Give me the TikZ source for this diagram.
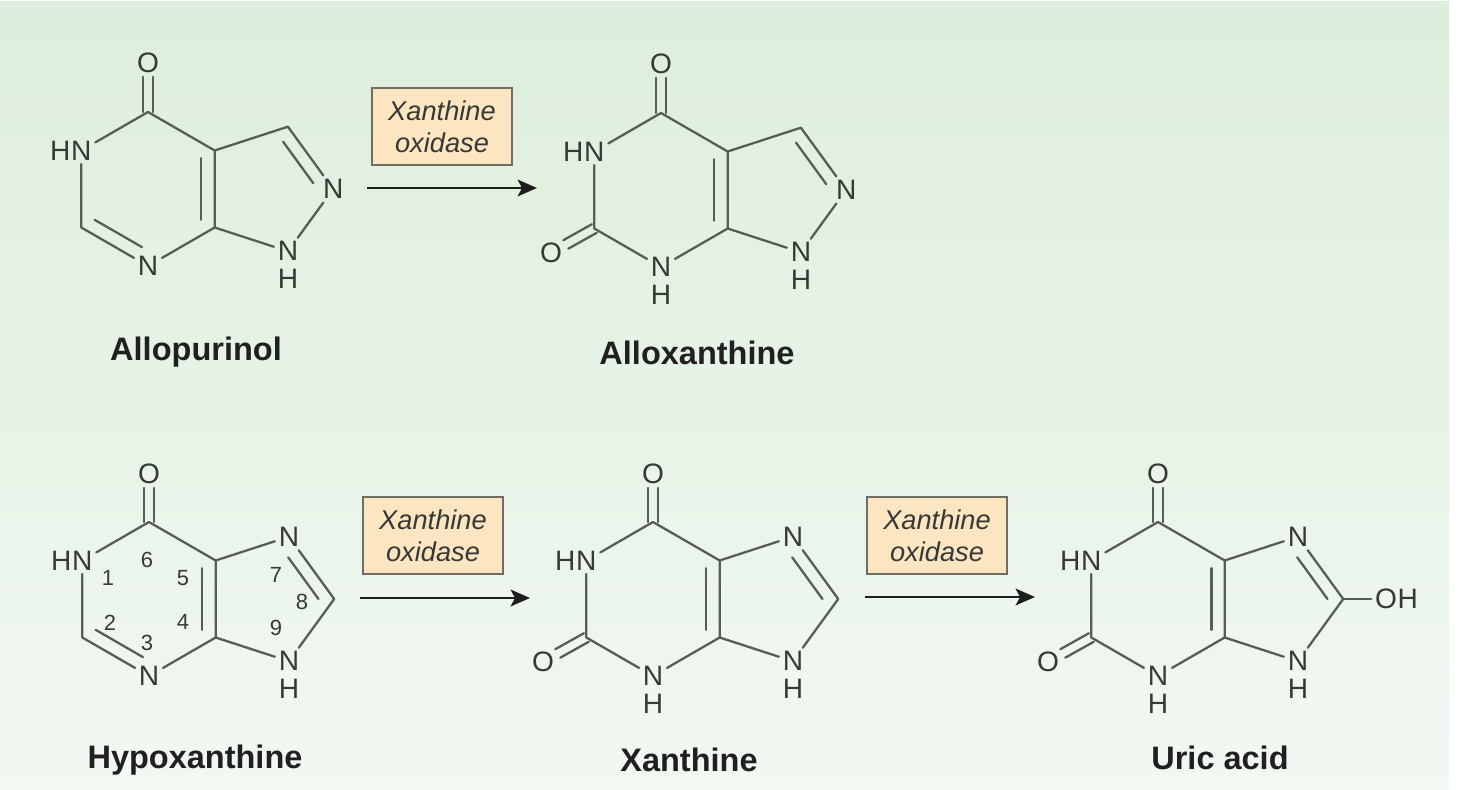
\documentclass[tikz,border=0pt]{standalone}
\usepackage{fontspec}
\setmainfont{Liberation Sans}
\usepackage{xcolor}
\usetikzlibrary{calc,positioning,arrows.meta}
\definecolor{bondgray}{RGB}{88,92,88}
\definecolor{atomgray}{RGB}{55,57,55}
\definecolor{namegray}{RGB}{32,32,32}
\definecolor{boxfill}{RGB}{252,229,193}
\definecolor{boxline}{RGB}{112,110,100}
\definecolor{arrowblack}{RGB}{30,30,30}
\definecolor{bgtop}{RGB}{221,238,220}
\definecolor{bgbot}{RGB}{242,248,242}
\tikzset{
	bond/.style={draw=bondgray, line width=1.3pt, line cap=round, line join=round},
	atom/.style={text=atomgray, font=\fontsize{16}{16}\selectfont, inner sep=2pt},
	num/.style={text=atomgray, font=\fontsize{12.5}{12.5}\selectfont, inner sep=1pt},
	molname/.style={text=namegray, font=\fontsize{18.5}{18.5}\selectfont\bfseries},
	enzyme/.style={draw=boxline, fill=boxfill, line width=1.2pt, text=atomgray,
		minimum width=79.7pt, minimum height=43.8pt, align=center,
		font=\fontsize{15.5}{18.2}\selectfont\itshape},
	react/.style={draw=arrowblack, line width=1.6pt, -{Stealth[length=11pt, width=9.5pt, inset=2.5pt]}}
}

\begin{document}
\begin{tikzpicture}[x=0.02cm, y=0.02cm]
	\useasboundingbox (0,0) rectangle (1458,789);
	\fill[white] (0,0) rectangle (1458,789);
	\shade[top color=bgtop, bottom color=bgbot] (0,0) rectangle (1449,787);

	% Allopurinol
	\begin{scope}[shift={(148,600)}]
		\coordinate (aM) at (0,0);
		\coordinate (aP) at (119.7,0);
		\coordinate (aC4) at (90:77);
		\coordinate (aC3a) at (30:77);
		\coordinate (aC7a) at (-30:77);
		\node[atom] (aN7) at (-90:77) {N};
		\coordinate (aC6) at (-150:77);
		\node[atom] (aN5) at (150:77) {N};
		\node[atom, left=-4pt of aN5] (aH5) {H};
		\coordinate (aC3) at (139.9,62.3);
		\node[atom] (aN2) at (185.2,0) {N};
		\node[atom] (aN1) at (139.9,-62.3) {N};
		\node[atom, below=0.5pt of aN1] (aH1) {H};
		\node[atom] (aO4) at (0,126) {O};
		\draw[bond] (aN5) -- (aC4) -- (aC3a) -- (aC7a) -- (aN7) -- (aC6) -- (aN5);
		\draw[bond] (aC3a) -- (aC3) -- (aN2) -- (aN1) -- (aC7a);
		\foreach \a in {0,180}
			\draw[bond] ([shift={(\a:2.8pt)}]aC4) -- ([shift={(\a:2.8pt)}]aO4.south);
		\draw[bond] ($(aM)!.8!(aC3a)$) -- ($(aM)!.8!(aC7a)$);
		\draw[bond, shorten >=4pt] ($(aM)!.8!(aC6)$) -- ($(aM)!.8!(aN7)$);
		\draw[bond, shorten >=4pt] ($(aP)!.76!(aC3)$) -- ($(aP)!.76!(aN2)$);
		\node[molname] (aName) at (48,-163) {Allopurinol};
	\end{scope}

	% Alloxanthine
	\begin{scope}[shift={(661,599)}]
		\coordinate (bM) at (0,0);
		\coordinate (bP) at (119.7,0);
		\coordinate (bC4) at (90:77);
		\coordinate (bC3a) at (30:77);
		\coordinate (bC7a) at (-30:77);
		\node[atom] (bN7) at (-90:77) {N};
		\node[atom, below=0.5pt of bN7] (bH7) {H};
		\coordinate (bC6) at (-150:77);
		\node[atom] (bN5) at (150:77) {N};
		\node[atom, left=-4pt of bN5] (bH5) {H};
		\coordinate (bC3) at (139.9,62.3);
		\node[atom] (bN2) at (185.2,0) {N};
		\node[atom] (bN1) at (139.9,-62.3) {N};
		\node[atom, below=0.5pt of bN1] (bH1) {H};
		\node[atom] (bO4) at (0,126) {O};
		\node[atom] (bO6) at (-110,-63) {O};
		\draw[bond] (bN5) -- (bC4) -- (bC3a) -- (bC7a) -- (bN7) -- (bC6) -- (bN5);
		\draw[bond] (bC3a) -- (bC3) -- (bN2) -- (bN1) -- (bC7a);
		\foreach \a in {0,180}
			\draw[bond] ([shift={(\a:2.8pt)}]bC4) -- ([shift={(\a:2.8pt)}]bO4.south);
		\foreach \a in {120,300}
			\draw[bond] ([shift={(\a:2.8pt)}]bC6) -- ([shift={(\a:2.8pt)}]bO6.30);
		\draw[bond] ($(bM)!.8!(bC3a)$) -- ($(bM)!.8!(bC7a)$);
		\draw[bond, shorten >=4pt] ($(bP)!.76!(bC3)$) -- ($(bP)!.76!(bN2)$);
		\node[molname] (bName) at (36,-163) {Alloxanthine};
	\end{scope}

	% Hypoxanthine
	\begin{scope}[shift={(149,190)}]
		\coordinate (hM) at (0,0);
		\coordinate (hP) at (119.7,0);
		\coordinate (hC6) at (90:77);
		\coordinate (hC5) at (30:77);
		\coordinate (hC4) at (-30:77);
		\node[atom] (hN3) at (-90:77) {N};
		\coordinate (hC2) at (-150:77);
		\node[atom] (hN1) at (150:77) {N};
		\node[atom, left=-4pt of hN1] (hH1) {H};
		\node[atom] (hN7) at (139.9,62.3) {N};
		\coordinate (hC8) at (185.2,0);
		\node[atom] (hN9) at (139.9,-62.3) {N};
		\node[atom, below=0.5pt of hN9] (hH9) {H};
		\node[atom] (hO6) at (0,125) {O};
		\draw[bond] (hN1) -- (hC6) -- (hC5) -- (hC4) -- (hN3) -- (hC2) -- (hN1);
		\draw[bond] (hC5) -- (hN7) -- (hC8) -- (hN9) -- (hC4);
		\foreach \a in {0,180}
			\draw[bond] ([shift={(\a:2.8pt)}]hC6) -- ([shift={(\a:2.8pt)}]hO6.south);
		\draw[bond] ($(hM)!.8!(hC5)$) -- ($(hM)!.8!(hC4)$);
		\draw[bond, shorten >=4pt] ($(hM)!.8!(hC2)$) -- ($(hM)!.8!(hN3)$);
		\draw[bond, shorten <=4pt] ($(hP)!.76!(hN7)$) -- ($(hP)!.76!(hC8)$);
		\foreach \n/\x/\y in {1/-41/21, 2/-39/-24, 3/-2/-44, 4/34/-23, 5/34/21,
				6/-2/39, 7/127/24, 8/153/-3, 9/127/-29}
			\node[num] (hL\n) at (\x,\y) {\n};
		\node[molname] (hName) at (46,-161) {Hypoxanthine};
	\end{scope}

	% Xanthine
	\begin{scope}[shift={(653,190)}]
		\coordinate (xM) at (0,0);
		\coordinate (xP) at (119.7,0);
		\coordinate (xC6) at (90:77);
		\coordinate (xC5) at (30:77);
		\coordinate (xC4) at (-30:77);
		\node[atom] (xN3) at (-90:77) {N};
		\node[atom, below=0.5pt of xN3] (xH3) {H};
		\coordinate (xC2) at (-150:77);
		\node[atom] (xN1) at (150:77) {N};
		\node[atom, left=-4pt of xN1] (xH1) {H};
		\node[atom] (xN7) at (139.9,62.3) {N};
		\coordinate (xC8) at (185.2,0);
		\node[atom] (xN9) at (139.9,-62.3) {N};
		\node[atom, below=0.5pt of xN9] (xH9) {H};
		\node[atom] (xO6) at (0,125) {O};
		\node[atom] (xO2) at (-110,-63) {O};
		\draw[bond] (xN1) -- (xC6) -- (xC5) -- (xC4) -- (xN3) -- (xC2) -- (xN1);
		\draw[bond] (xC5) -- (xN7) -- (xC8) -- (xN9) -- (xC4);
		\foreach \a in {0,180}
			\draw[bond] ([shift={(\a:2.8pt)}]xC6) -- ([shift={(\a:2.8pt)}]xO6.south);
		\foreach \a in {120,300}
			\draw[bond] ([shift={(\a:2.8pt)}]xC2) -- ([shift={(\a:2.8pt)}]xO2.30);
		\draw[bond] ($(xM)!.8!(xC5)$) -- ($(xM)!.8!(xC4)$);
		\draw[bond, shorten <=4pt] ($(xP)!.76!(xN7)$) -- ($(xP)!.76!(xC8)$);
		\node[molname] (xName) at (36,-161) {Xanthine};
	\end{scope}

	% Uric acid
	\begin{scope}[shift={(1158,190)}]
		\coordinate (uM) at (0,0);
		\coordinate (uP) at (119.7,0);
		\coordinate (uC6) at (90:77);
		\coordinate (uC5) at (30:77);
		\coordinate (uC4) at (-30:77);
		\node[atom] (uN3) at (-90:77) {N};
		\node[atom, below=0.5pt of uN3] (uH3) {H};
		\coordinate (uC2) at (-150:77);
		\node[atom] (uN1) at (150:77) {N};
		\node[atom, left=-4pt of uN1] (uH1) {H};
		\node[atom] (uN7) at (139.9,62.3) {N};
		\coordinate (uC8) at (185.2,0);
		\node[atom] (uN9) at (139.9,-62.3) {N};
		\node[atom, below=0.5pt of uN9] (uH9) {H};
		\node[atom] (uO6) at (0,125) {O};
		\node[atom] (uO2) at (-110,-63) {O};
		\node[atom] (uO8) at (228,0) {O};
		\node[atom, right=-4pt of uO8] (uH8) {H};
		\draw[bond] (uN1) -- (uC6) -- (uC5) -- (uC4) -- (uN3) -- (uC2) -- (uN1);
		\draw[bond] (uC5) -- (uN7) -- (uC8) -- (uN9) -- (uC4);
		\draw[bond] (uC8) -- (uO8);
		\foreach \a in {0,180}
			\draw[bond] ([shift={(\a:2.8pt)}]uC6) -- ([shift={(\a:2.8pt)}]uO6.south);
		\foreach \a in {120,300}
			\draw[bond] ([shift={(\a:2.8pt)}]uC2) -- ([shift={(\a:2.8pt)}]uO2.30);
		\draw[bond] ($(uM)!.8!(uC5)$) -- ($(uM)!.8!(uC4)$);
		\draw[bond, shorten <=4pt] ($(uP)!.76!(uN7)$) -- ($(uP)!.76!(uC8)$);
		\node[molname] (uName) at (62,-159) {Uric acid};
	\end{scope}

	% enzyme steps
	\node[enzyme] (enzA) at (442,662.5) {Xanthine\\oxidase};
	\coordinate (arrAs) at (367,601);
	\coordinate (arrAe) at (537,601);
	\draw[react] (arrAs) -- (arrAe);

	\node[enzyme] (enzB) at (433,253.5) {Xanthine\\oxidase};
	\coordinate (arrBs) at (360,191);
	\coordinate (arrBe) at (530,191);
	\draw[react] (arrBs) -- (arrBe);

	\node[enzyme] (enzC) at (937,253.5) {Xanthine\\oxidase};
	\coordinate (arrCs) at (865,192);
	\coordinate (arrCe) at (1035,192);
	\draw[react] (arrCs) -- (arrCe);
\end{tikzpicture}
\end{document}
